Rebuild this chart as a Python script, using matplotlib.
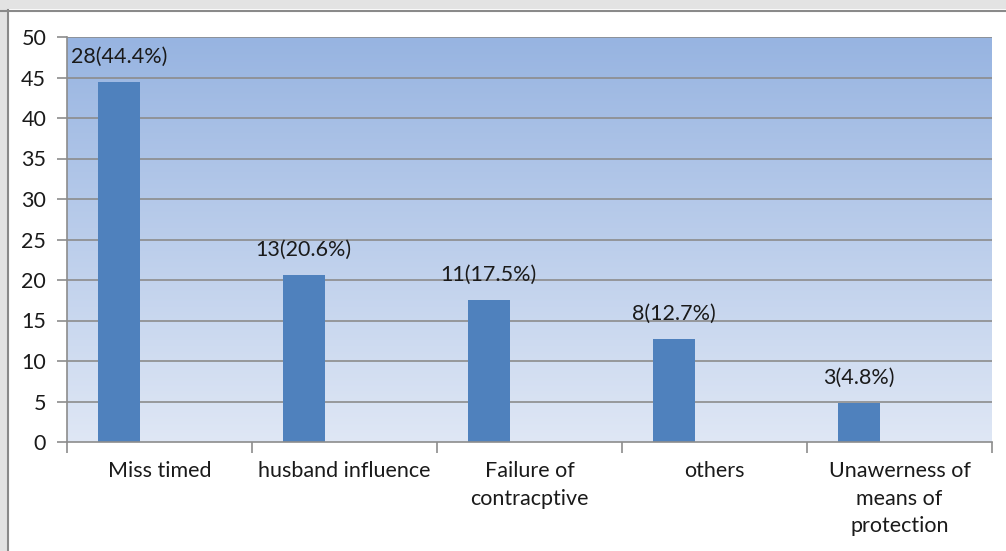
import numpy as np
import matplotlib.pyplot as plt
from matplotlib.patches import Rectangle
from matplotlib.colors import LinearSegmentedColormap

categories = ["Miss timed", "husband influence", "Failure of\ncontracptive",
              "others", "Unawerness of\nmeans of\nprotection"]
counts = [28, 13, 11, 8, 3]
percents = [44.4, 20.6, 17.5, 12.7, 4.8]
yticks = [0, 5, 10, 15, 20, 25, 30, 35, 40, 45, 50]

plt.rcParams['font.family'] = ['Lato', 'DejaVu Sans']
FS = 15.5

fig = plt.figure(figsize=(10.06, 5.51), dpi=100, facecolor='white')

# outer frame like the screenshot
fig.patches.append(Rectangle((0, 1 - 9 / 551), 1, 9 / 551, transform=fig.transFigure,
                             facecolor='#e3e3e3', edgecolor='none', zorder=0))
fig.patches.append(Rectangle((0, 0), 7 / 1006, 1, transform=fig.transFigure,
                             facecolor='#e3e3e3', edgecolor='none', zorder=0))
fig.lines.append(plt.Line2D([0, 1], [1 - 10.5 / 551] * 2, transform=fig.transFigure,
                            color='#8a8a8a', lw=1.5))
fig.lines.append(plt.Line2D([7.5 / 1006] * 2, [0, 1 - 10 / 551], transform=fig.transFigure,
                            color='#8a8a8a', lw=1.5))

ax = fig.add_axes([67 / 1006, 1 - 442 / 551, (992 - 67) / 1006, (442 - 37) / 551])

x = np.arange(len(categories))
ax.set_xlim(-0.5, len(categories) - 0.5)
ax.set_ylim(0, 50)

# gradient background
cmap = LinearSegmentedColormap.from_list('bg', ['#dfe7f5', '#97b4e1'])
grad = np.linspace(0, 1, 256).reshape(-1, 1)
ax.imshow(grad, cmap=cmap, aspect='auto', origin='lower',
          extent=[-0.5, len(categories) - 0.5, 0, 50], zorder=0)

for yv in yticks[1:]:
    ax.axhline(yv, color='#8c8c8c', lw=1.2, zorder=1)

bars = ax.bar(x - 0.22, percents, width=0.225, color='#4f81bd', zorder=2)

for xi, c, p in zip(x, counts, percents):
    ax.text(xi - 0.22, p + 1.9, f"{c}({p}%)", ha='center', va='bottom',
            fontsize=FS, color='#1a1a1a', zorder=3)

ax.set_yticks(yticks)
ax.set_yticklabels([str(v) for v in yticks], fontsize=FS, color='#1a1a1a')
ax.set_xticks(np.arange(-0.5, len(categories), 1.0))
ax.set_xticklabels([])
ax.set_xticks(x, minor=True)
ax.set_xticklabels(categories, minor=True, fontsize=FS, color='#1a1a1a',
                   va='top', linespacing=1.45)
ax.tick_params(axis='x', which='minor', length=0, pad=14)
ax.tick_params(axis='x', which='major', length=8, color='#8c8c8c', width=1.2)
ax.tick_params(axis='y', length=7, color='#8c8c8c', width=1.2, pad=8)

for s in ['top', 'right']:
    ax.spines[s].set_visible(False)
for s in ['left', 'bottom']:
    ax.spines[s].set_color('#8c8c8c')
    ax.spines[s].set_linewidth(1.2)

fig.savefig('out.png', dpi=100, facecolor='white')
